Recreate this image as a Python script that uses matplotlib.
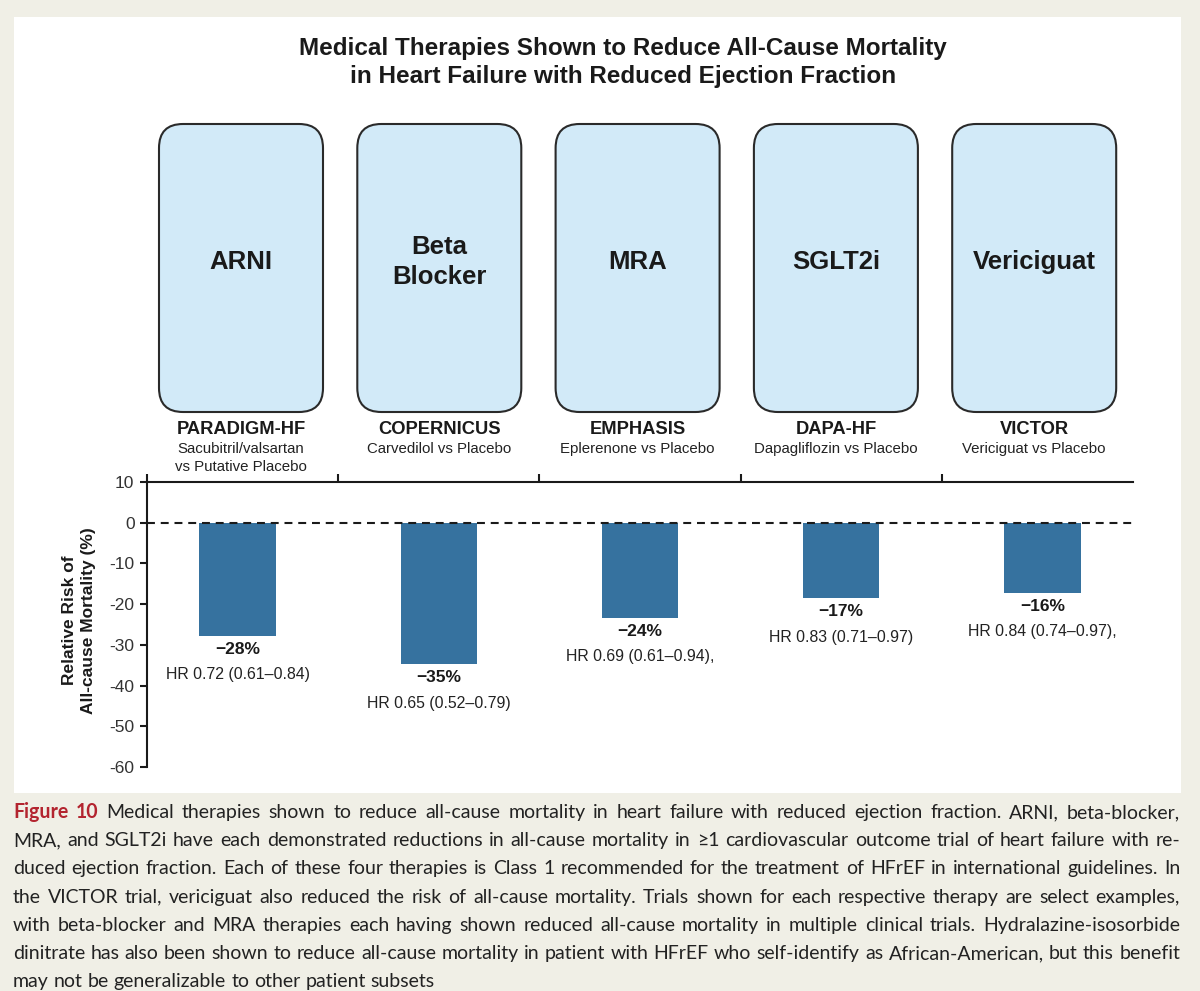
import matplotlib
matplotlib.use("Agg")
import matplotlib.pyplot as plt
from matplotlib.patches import FancyBboxPatch, Rectangle

W, H = 1200, 991
BEIGE = "#f0efe6"
BOX_FILL = "#d2eaf8"
BAR_COLOR = "#36729f"
FIG_RED = "#b3242f"
INK = "#1a1a1a"

plt.rcParams["font.family"] = ["Liberation Sans", "DejaVu Sans"]
plt.rcParams["axes.unicode_minus"] = False

title_lines = [
    "Medical Therapies Shown to Reduce All-Cause Mortality",
    "in Heart Failure with Reduced Ejection Fraction",
]
therapies = ["ARNI", "Beta\nBlocker", "MRA", "SGLT2i", "Vericiguat"]
trials = ["PARADIGM-HF", "COPERNICUS", "EMPHASIS", "DAPA-HF", "VICTOR"]
comparisons = [
    ["Sacubitril/valsartan", "vs Putative Placebo"],
    ["Carvedilol vs Placebo"],
    ["Eplerenone vs Placebo"],
    ["Dapagliflozin vs Placebo"],
    ["Vericiguat vs Placebo"],
]
bar_values = [-27.8, -34.8, -23.3, -18.5, -17.2]
pct_labels = ["\u221228%", "\u221235%", "\u221224%", "\u221217%", "\u221216%"]
hr_labels = [
    "HR 0.72 (0.61\u20130.84)",
    "HR 0.65 (0.52\u20130.79)",
    "HR 0.69 (0.61\u20130.94),",
    "HR 0.83 (0.71\u20130.97)",
    "HR 0.84 (0.74\u20130.97),",
]
y_ticks = [10, 0, -10, -20, -30, -40, -50, -60]
y_label = "Relative Risk of\nAll-cause Mortality (%)"

caption_head = "Figure 10"
caption_lines = [
    "Medical therapies shown to reduce all-cause mortality in heart failure with reduced ejection fraction. ARNI, beta-blocker,",
    "MRA, and SGLT2i have each demonstrated reductions in all-cause mortality in \u22651 cardiovascular outcome trial of heart failure with re-",
    "duced ejection fraction. Each of these four therapies is Class 1 recommended for the treatment of HFrEF in international guidelines. In",
    "the VICTOR trial, vericiguat also reduced the risk of all-cause mortality. Trials shown for each respective therapy are select examples,",
    "with beta-blocker and MRA therapies each having shown reduced all-cause mortality in multiple clinical trials. Hydralazine-isosorbide",
    "dinitrate has also been shown to reduce all-cause mortality in patient with HFrEF who self-identify as African-American, but this benefit",
    "may not be generalizable to other patient subsets",
]

fig = plt.figure(figsize=(W / 100, H / 100), dpi=100)
fig.patch.set_facecolor(BEIGE)

# pixel-space layer for panel, title, boxes and caption
deco = fig.add_axes([0, 0, 1, 1], zorder=0)
deco.set_xlim(0, W)
deco.set_ylim(H, 0)
deco.axis("off")
deco.add_patch(Rectangle((14, 17), 1167, 776, facecolor="white", edgecolor="none"))

for k, line in enumerate(title_lines):
    deco.text(623, 48 + 29 * k, line, ha="center", va="center",
              fontsize=17.5, fontweight="bold", color=INK)

box_w, box_top, box_bot = 164, 124, 412
for i, name in enumerate(therapies):
    cx = 241 + 198.3 * i
    deco.add_patch(FancyBboxPatch(
        (cx - box_w / 2, box_top), box_w, box_bot - box_top,
        boxstyle="round,pad=0,rounding_size=24",
        facecolor=BOX_FILL, edgecolor="#2a2a2a", linewidth=1.5))
    deco.text(cx, 262, name, ha="center", va="center", fontsize=18.5,
              fontweight="bold", color=INK, linespacing=1.3)
    deco.text(cx, 430, trials[i], ha="center", va="center", fontsize=13.2,
              fontweight="bold", color=INK)
    for k, sub in enumerate(comparisons[i]):
        deco.text(cx, 449 + 18 * k, sub, ha="center", va="center",
                  fontsize=10.8, color="#222222")

# main chart
ax = fig.add_axes([147 / W, 1 - 767 / H, 986 / W, 285 / H], zorder=1)
ax.patch.set_alpha(0)
ax.set_xlim(-0.45, 4.45)
ax.set_ylim(-60, 10)
ax.bar(range(len(bar_values)), bar_values, width=0.38, color=BAR_COLOR, zorder=2)
ax.axhline(0, color=INK, linewidth=1.5, linestyle=(0, (3.8, 2.8)), zorder=3)

for i, v in enumerate(bar_values):
    ax.text(i, v - 3.3, pct_labels[i], ha="center", va="center",
            fontsize=12.5, fontweight="bold", color=INK)
    ax.text(i, v - 9.6, hr_labels[i], ha="center", va="center",
            fontsize=11.4, color="#222222")

for side in ["right", "bottom"]:
    ax.spines[side].set_visible(False)
for side in ["left", "top"]:
    ax.spines[side].set_linewidth(1.5)
    ax.spines[side].set_color(INK)

ax.set_yticks(y_ticks)
ax.set_yticklabels([str(t) for t in y_ticks])
ax.tick_params(axis="y", length=5, width=1.5, pad=4, labelsize=12.5,
               colors=INK, labelcolor="#333333")
ax.xaxis.tick_top()
ax.set_xticks([-0.45, 0.5, 1.5, 2.5, 3.5])
ax.set_xticklabels([])
ax.tick_params(axis="x", length=6, width=1.5, direction="out", colors=INK)

ax.text(-68 / 986, 0.515, y_label, transform=ax.transAxes, rotation=90,
        ha="center", va="center", fontsize=12.5, fontweight="bold",
        color=INK, linespacing=1.25, multialignment="center")

# caption, justified to the panel width
renderer = fig.canvas.get_renderer()
cap_family = ["Lato", "DejaVu Sans"]


def text_width(s, size, weight="normal"):
    t = fig.text(0, 0, s, fontsize=size, fontweight=weight, family=cap_family)
    w = t.get_window_extent(renderer).width
    t.remove()
    return w


left, right = 13, 1180
full_lines = [caption_head + " " + caption_lines[0]] + caption_lines[1:-1]
widest = max(text_width(s, 10) for s in full_lines)
cap_size = 10 * (right - left - 2) / widest
space_w = text_width("a a", cap_size) - text_width("aa", cap_size)
for k, line in enumerate(caption_lines):
    words = [(w, "normal", "#222222") for w in line.split(" ")]
    if k == 0:
        words = [(w, "bold", FIG_RED) for w in caption_head.split(" ")] + words
    widths = [text_width(w, cap_size, wt) for w, wt, _ in words]
    if k < len(caption_lines) - 1:
        gap = (right - left - sum(widths)) / (len(words) - 1)
    else:
        gap = space_w
    x = left
    y = 818 + 28.2 * k
    for (w, wt, col), ww in zip(words, widths):
        deco.text(x, y, w, ha="left", va="baseline", fontsize=cap_size,
                  fontweight=wt, color=col, family=cap_family)
        x += ww + gap

fig.savefig("out.png", dpi=100, facecolor=fig.get_facecolor())
